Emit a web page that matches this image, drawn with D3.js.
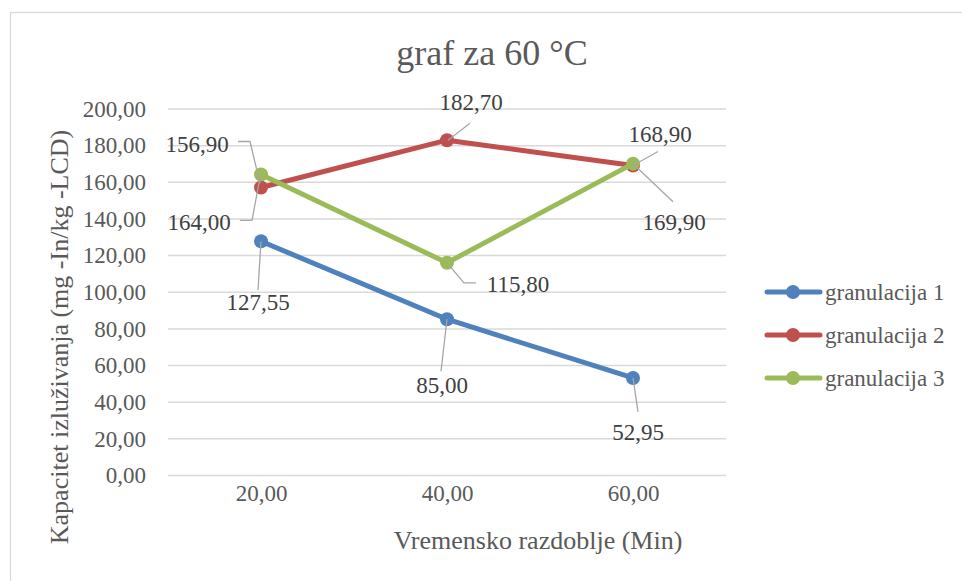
<!DOCTYPE html>
<html>
<head>
<meta charset="utf-8">
<script src="https://cdn.jsdelivr.net/npm/d3@7"></script>
<style>
  html, body { margin: 0; padding: 0; background: #fff; }
  svg text { font-family: "Liberation Serif", "Times New Roman", serif !important; }
</style>
</head>
<body>
<svg id="chart" width="962" height="581"></svg>
<script>
// ---- data ----
const categories = ["20,00", "40,00", "60,00"];
const seriesNames = ["granulacija 1", "granulacija 2", "granulacija 3"];
const granulacija1 = [127.55, 85.00, 52.95];
const granulacija2 = [156.90, 182.70, 168.90];
const granulacija3 = [164.00, 115.80, 169.90];
const yTicks = [0, 20, 40, 60, 80, 100, 120, 140, 160, 180, 200];
const title = "graf za 60 °C";
const xTitle = "Vremensko razdoblje (Min)";
const yTitle = "Kapacitet izluživanja (mg -In/kg -LCD)";

// ---- style / layout (not data) ----
const colors = ["#4F81BD", "#C0504D", "#9BBB59"];
// label placement offsets relative to each point: [dx, dy(baseline)], and leader polyline
const labelLayout = [
  [ {dx: -3, dy: 69, lead: [[0,0],[-3,49]]},
    {dx: -5, dy: 74, lead: [[0,0],[-6,52]]},
    {dx: 5,  dy: 62, lead: [[0,0],[5,34]]} ],
  [ {dx: -64, dy: -35, lead: [[-1,-4],[-11,-46],[-23,-46]]},
    {dx: 24,  dy: -30, lead: [[1,0],[23,-17]]},
    {dx: 27,  dy: -23, lead: [[0,0],[25,-14]]} ],
  [ {dx: -62, dy: 56, lead: [[-1,3],[-9,46],[-21,46]]},
    {dx: 71,  dy: 29, lead: [[0,0],[17,20],[29,20]]},
    {dx: 41,  dy: 66, lead: [[0,0],[40,38]]} ]
];

const fmt = v => d3.format(".2f")(v).replace(".", ",");
const series = [granulacija1, granulacija2, granulacija3].map((vals, i) => ({
  name: seriesNames[i], color: colors[i], values: vals
}));

const svg = d3.select("#chart");
const textColor = "#595959";
const serif = "'Liberation Serif', 'Times New Roman', serif";

// chart border (cropped at right/bottom)
svg.append("rect").attr("x", 10.5).attr("y", 12.5).attr("width", 1000).attr("height", 1000)
  .attr("fill", "none").attr("stroke", "#d9d9d9").attr("stroke-width", 1.3);

const x = d3.scalePoint().domain(categories).range([168, 726]).padding(0.5);
const y = d3.scaleLinear().domain([0, 200]).range([475, 108.5]);

// gridlines + y labels via axis
const yAxis = d3.axisLeft(y).tickValues(yTicks).tickSize(-(726 - 168)).tickFormat(fmt).tickPadding(22);
const gy = svg.append("g").attr("transform", "translate(168,0)").call(yAxis);
gy.attr("font-family", serif);
gy.select(".domain").remove();
gy.selectAll(".tick line").attr("stroke", "#d9d9d9").attr("stroke-width", 1.5);
gy.selectAll(".tick text").attr("fill", textColor).attr("font-size", 23).attr("dy", "0.34em");

// x axis labels
const xAxis = d3.axisBottom(x).tickSize(0).tickPadding(0);
const gx = svg.append("g").attr("transform", "translate(0,475)").call(xAxis);
gx.attr("font-family", serif);
gx.select(".domain").remove();
gx.selectAll(".tick text").attr("fill", textColor).attr("font-size", 23).attr("dy", 0).attr("y", 26);

// titles
svg.append("text").attr("x", 492).attr("y", 65).attr("text-anchor", "middle")
  .attr("font-size", 36).attr("fill", textColor).text(title);
svg.append("text").attr("x", 538).attr("y", 549).attr("text-anchor", "middle")
  .attr("font-size", 26).attr("fill", textColor).text(xTitle);
svg.append("text").attr("transform", "translate(68,337) rotate(-90)").attr("text-anchor", "middle")
  .attr("font-size", 26).attr("fill", textColor).text(yTitle);

// lines and markers
const line = d3.line().x((d, i) => x(categories[i])).y(d => y(d));
series.forEach(s => {
  const g = svg.append("g");
  g.append("path").datum(s.values).attr("d", line).attr("fill", "none")
    .attr("stroke", s.color).attr("stroke-width", 5).attr("stroke-linejoin", "round").attr("stroke-linecap", "round");
  g.selectAll("circle").data(s.values).join("circle")
    .attr("cx", (d, i) => x(categories[i])).attr("cy", d => y(d)).attr("r", 7).attr("fill", s.color);
});

// data labels with leader lines
series.forEach((s, si) => {
  s.values.forEach((v, i) => {
    const px = x(categories[i]), py = y(v);
    const L = labelLayout[si][i];
    svg.append("polyline")
      .attr("points", L.lead.map(p => [px + p[0], py + p[1]].join(",")).join(" "))
      .attr("fill", "none").attr("stroke", "#a6a6a6").attr("stroke-width", 1.3);
    svg.append("text").attr("x", px + L.dx).attr("y", py + L.dy).attr("text-anchor", "middle")
      .attr("font-size", 23).attr("fill", "#404040").text(fmt(v));
  });
});

// legend
const legend = svg.append("g");
const legendY = [292, 335, 378];
series.forEach((s, i) => {
  const g = legend.append("g").attr("transform", `translate(0,${legendY[i]})`);
  g.append("line").attr("x1", 767).attr("x2", 820).attr("y1", 0).attr("y2", 0)
    .attr("stroke", s.color).attr("stroke-width", 5).attr("stroke-linecap", "round");
  g.append("circle").attr("cx", 793).attr("cy", 0).attr("r", 7).attr("fill", s.color);
  g.append("text").attr("x", 825).attr("y", 8).attr("font-size", 23).attr("fill", textColor).text(s.name);
});

svg.selectAll("text").attr("font-family", serif);
</script>
</body>
</html>
